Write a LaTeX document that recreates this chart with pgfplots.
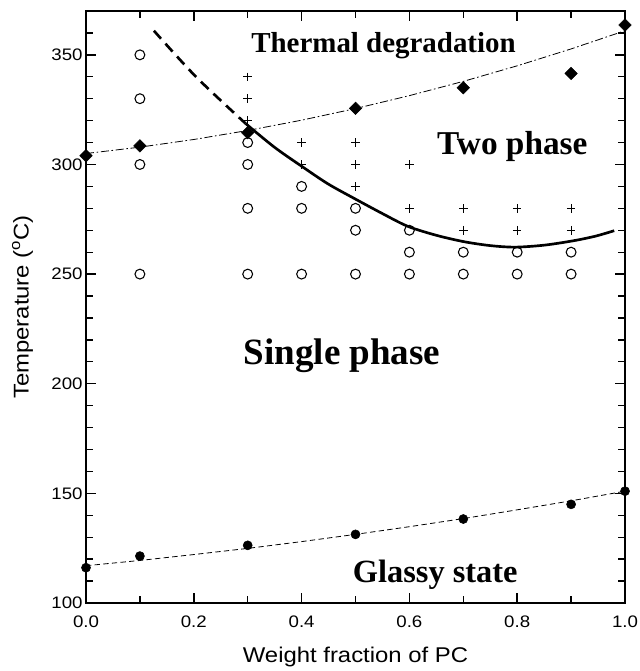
\documentclass[border=0pt]{standalone}
\usepackage{pgfplots}
\pgfplotsset{compat=1.18}
\usepackage{fontspec}
\setmainfont{Liberation Sans}[FakeStretch=1.12]
\newfontfamily\serifb{Liberation Serif}
\begin{document}
\begin{tikzpicture}
\begin{axis}[
  scale only axis,
  width=404.25pt, height=444pt,
  xmin=0, xmax=1, ymin=100, ymax=370,
  xtick={0,0.2,0.4,0.6,0.8,1.0},
  minor xtick={0.1,0.3,0.5,0.7,0.9},
  ytick={100,150,200,250,300,350},
  minor ytick={110,120,130,140,160,170,180,190,210,220,230,240,260,270,280,290,310,320,330,340,360},
  xticklabel style={/pgf/number format/fixed, /pgf/number format/fixed zerofill, /pgf/number format/precision=1, yshift=-6pt},
  /pgf/number format/assume math mode=true,
  xtick pos=both, ytick pos=both,
  xtick align=inside, ytick align=inside,
  major tick length=7.5pt, minor tick length=5pt,
  major tick style={draw=black, line width=1.1pt},
  minor tick style={draw=black, line width=1pt},
  axis line style={line width=1pt},
  ticklabel style={font=\fontsize{12.5}{14}\selectfont},
  yticklabel style={xshift=1pt},
  xlabel={Weight fraction of PC},
  ylabel={Temperature (\textsuperscript{o}C)},
  label style={font=\fontsize{16}{18}\selectfont},
  xlabel style={yshift=-8pt},
  ylabel style={yshift=7pt},
  clip=false,
]
% Thermal degradation fit line
\addplot[black, line width=0.6pt, dash pattern=on 6pt off 2pt on 1.2pt off 2pt] coordinates {
(0,305) (0.1,307.9) (0.2,311.4) (0.3,315.5) (0.4,320.2) (0.5,325.5) (0.6,331.4) (0.7,337.9) (0.8,345.0) (0.9,352.7) (1.0,361.0)};
% Thermal degradation points
\addplot[only marks, mark=square*, mark size=3.3pt, mark options={fill=black, rotate=45}] coordinates {
(0,304) (0.1,308.5) (0.3,314.5) (0.5,325.6) (0.7,335) (0.9,341.5) (1.0,363.6)};
% Tg line
\addplot[black, line width=0.6pt, dash pattern=on 4pt off 2.5pt] coordinates {
(0,117) (0.1,119.4) (0.2,122.1) (0.3,124.9) (0.4,128.0) (0.5,131.3) (0.6,134.8) (0.7,138.5) (0.8,142.5) (0.9,146.6) (1.0,151)};
\addplot[only marks, mark=*, mark size=3.4pt, mark options={fill=black}] coordinates {
(0,116.1) (0.1,121.4) (0.3,126.3) (0.5,131.3) (0.7,138.3) (0.9,145) (1.0,151)};
% open circles (single phase)
\addplot[only marks, mark=o, mark size=3.7pt, mark options={line width=0.8pt}] coordinates {
(0.1,350) (0.1,330) (0.1,300) (0.1,250)
(0.3,310) (0.3,300) (0.3,280) (0.3,250)
(0.4,290) (0.4,280) (0.4,250)
(0.5,280) (0.5,270) (0.5,250)
(0.6,270) (0.6,260) (0.6,250)
(0.7,260) (0.7,250)
(0.8,260) (0.8,250)
(0.9,260) (0.9,250)};
% plus (two phase)
\addplot[only marks, mark=+, mark size=3.2pt, mark options={line width=0.7pt}] coordinates {
(0.3,340) (0.3,330) (0.3,320)
(0.4,310) (0.4,300)
(0.5,310) (0.5,300) (0.5,290)
(0.6,300) (0.6,280)
(0.7,280) (0.7,270)
(0.8,280) (0.8,270)
(0.9,280) (0.9,270)};
% phase boundary dashed part
\addplot[black, line width=2pt, dash pattern=on 8pt off 5pt, smooth] coordinates {
(0.126,361) (0.204,340) (0.296,318.7)};
% phase boundary solid part
\addplot[black, line width=2pt, smooth] coordinates {
(0.296,318.7) (0.35,307.8) (0.406,298.2) (0.45,291) (0.5,284.2) (0.55,277.6) (0.597,271.8) (0.65,267.7) (0.701,264.8) (0.75,263) (0.796,262.3) (0.85,263.2) (0.904,265.2) (0.945,267.3) (0.98,269.8)};
% region labels
\node[font=\serifb\bfseries\fontsize{21.7}{24}\selectfont] at (axis cs:0.552,354) {Thermal degradation};
\node[font=\serifb\bfseries\fontsize{25}{28}\selectfont] at (axis cs:0.791,308) {Two phase};
\node[font=\serifb\bfseries\fontsize{27.8}{30}\selectfont] at (axis cs:0.475,213) {Single phase};
\node[font=\serifb\bfseries\fontsize{24.3}{27}\selectfont] at (axis cs:0.648,112.8) {Glassy state};
\end{axis}
\pgfresetboundingbox
\path[use as bounding box] ([xshift=-64.5pt,yshift=-51pt]current axis.south west) rectangle ([xshift=10.5pt,yshift=8.25pt]current axis.north east);
\end{tikzpicture}
\end{document}
